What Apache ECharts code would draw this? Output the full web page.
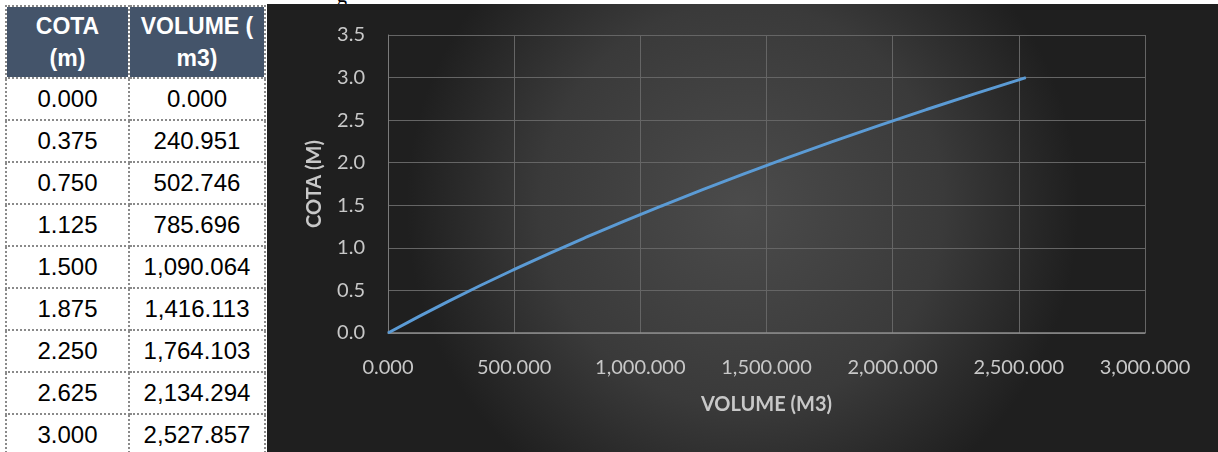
<!DOCTYPE html>
<html><head><meta charset="utf-8">
<script src="https://cdn.jsdelivr.net/npm/echarts@6/dist/echarts.min.js"></script>
<style>
html,body{margin:0;padding:0;background:#fff;width:1218px;height:452px;overflow:hidden;position:relative;}
#tbl{position:absolute;left:5px;top:5px;border-collapse:collapse;table-layout:fixed;width:259px;font-family:"Liberation Sans",Arial,sans-serif;font-size:24px;}
#tbl td,#tbl th{border:2px dotted #8a8a8a;text-align:center;padding:0;overflow:hidden;white-space:nowrap;}
#tbl th{background:#44546a;color:#fff;font-weight:bold;height:70px;line-height:32px;font-size:23px;}
#tbl td{background:#fff;color:#000;height:40px;}
#chart{position:absolute;left:267px;top:4px;width:951px;height:448px;}
#g{position:absolute;left:337px;top:-16px;font-family:"Liberation Serif",serif;font-size:20px;color:#000;}
</style></head>
<body>
<div id="g">g</div>
<table id="tbl"><colgroup><col style="width:123px"><col style="width:136px"></colgroup><thead><tr><th>COTA<br>(m)</th><th>VOLUME (<br>m3)</th></tr></thead><tbody id="tb"></tbody></table>
<div id="chart"></div>
<script>
const cota = [0.000, 0.375, 0.750, 1.125, 1.500, 1.875, 2.250, 2.625, 3.000];
const volume = [0.000, 240.951, 502.746, 785.696, 1090.064, 1416.113, 1764.103, 2134.294, 2527.857];
const xTicks = {min: 0, max: 3000, interval: 500};
const yTicks = {min: 0, max: 3.5, interval: 0.5};

function fmt(v){ return v.toLocaleString('en-US',{minimumFractionDigits:3,maximumFractionDigits:3}); }
const tb = document.getElementById('tb');
cota.forEach((c,i)=>{
  const tr=document.createElement('tr');
  tr.innerHTML='<td>'+c.toFixed(3)+'</td><td>'+fmt(volume[i])+'</td>';
  tb.appendChild(tr);
});

const chart = echarts.init(document.getElementById('chart'), null, {renderer:'canvas'});
const FF = 'Lato, "Open Sans", sans-serif';
const lab = {color:'#c8c8c8', fontFamily:FF, fontSize:20};
chart.setOption({
  animation:false,
  backgroundColor:{type:'radial',x:0.5,y:0.45,r:0.75,colorStops:[{offset:0,color:'#4b4b4b'},{offset:0.6,color:'#3a3a3a'},{offset:1,color:'#1f1f1f'}]},
  grid:{left:121,top:31,right:73,bottom:119,containLabel:false},
  xAxis:{type:'value',min:xTicks.min,max:xTicks.max,interval:xTicks.interval,
    name:'VOLUME (M3)',nameLocation:'middle',nameGap:62,
    nameTextStyle:{color:'#c8c8c8',fontFamily:FF,fontSize:20,fontWeight:'bold'},
    axisLine:{show:true,lineStyle:{color:'#8c8c8c',width:1.5}},axisTick:{show:false},
    axisLabel:Object.assign({margin:25,formatter:v=>fmt(v)},lab),
    splitLine:{show:true,lineStyle:{color:'#656565',width:1}}},
  yAxis:{type:'value',min:yTicks.min,max:yTicks.max,interval:yTicks.interval,
    name:'COTA (M)',nameLocation:'middle',nameGap:63,
    nameTextStyle:{color:'#c8c8c8',fontFamily:FF,fontSize:20,fontWeight:'bold'},
    axisLine:{show:true,lineStyle:{color:'#7a7a7a',width:1}},axisTick:{show:false},
    axisLabel:Object.assign({margin:23,formatter:v=>v.toFixed(1)},lab),
    splitLine:{show:true,lineStyle:{color:'#656565',width:1}}},
  series:[{type:'line',data:volume.map((v,i)=>[v,cota[i]]),smooth:true,showSymbol:false,
    lineStyle:{color:'#5b9bd5',width:3}}]
});
</script>
</body></html>
